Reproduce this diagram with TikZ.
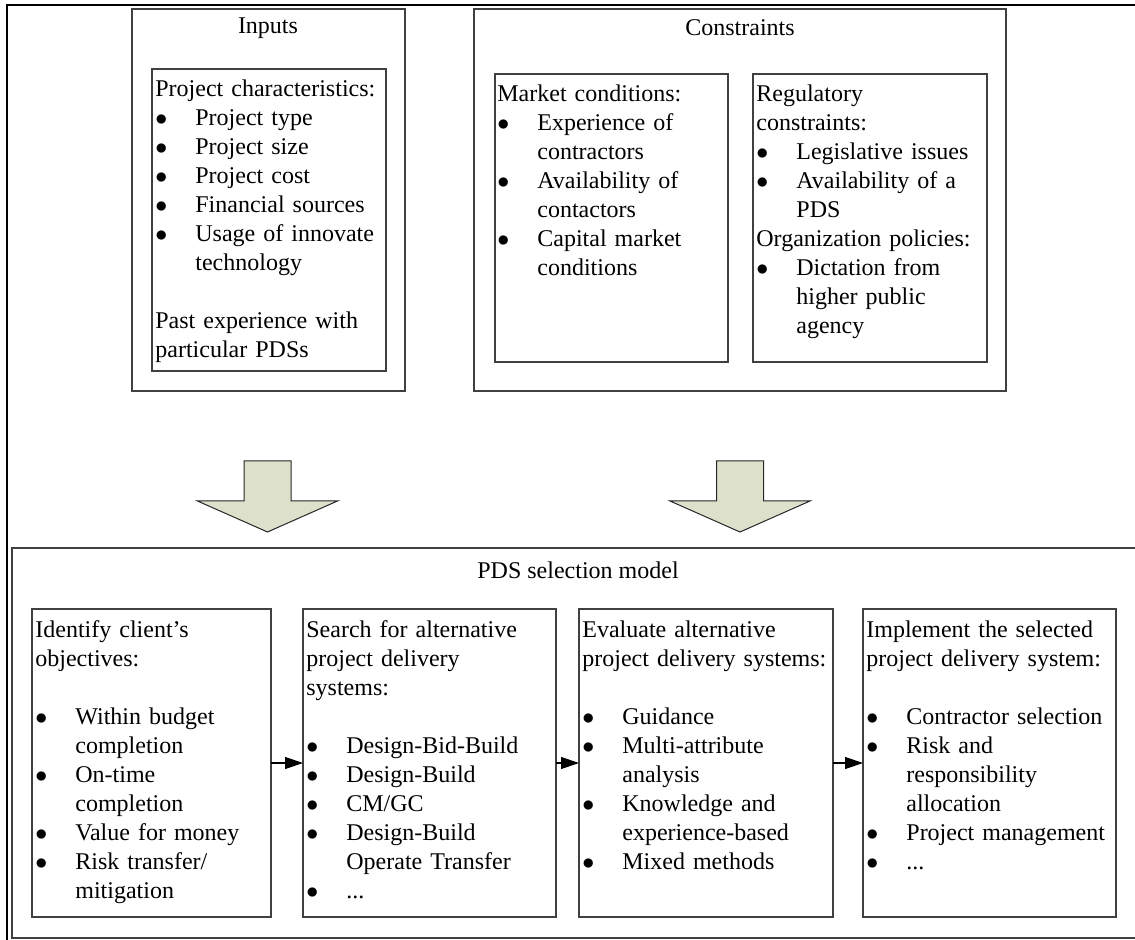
\documentclass[tikz,border=0pt]{standalone}
\usepackage{fontspec}
\setmainfont{Liberation Serif}
\usetikzlibrary{arrows.meta}
\setlength{\parindent}{0pt}
\definecolor{pfeilgruen}{RGB}{221,225,204}
\newcommand{\punkt}[1]{\par\hangindent=20pt\hangafter=1\noindent\makebox[20pt][l]{$\bullet$}#1\par}
\newcommand{\leerzeile}{\par\vspace{14.5pt}\noindent}
\tikzset{
  kasten/.style={draw=black!75, line width=0.6pt, inner sep=0pt, outer sep=0pt, anchor=north west},
  liste/.style={anchor=north west, inner sep=0pt, align=left, font=\fontsize{12}{14.5}\selectfont},
  titel/.style={inner sep=0pt, font=\fontsize{12}{14.5}\selectfont},
  blockpfeil/.style={draw=black!85, line width=0.5pt, fill=pfeilgruen},
}
\begin{document}
\begin{tikzpicture}[x=0.5pt,y=-0.5pt]
\useasboundingbox (0,0) rectangle (1135,940);
\clip (0,0) rectangle (1135,940);
% Rahmen
\draw[line width=1.1pt] (7,960) -- (7,5) -- (1160,5);
% Kaesten oben
\node[kasten, minimum width=136.5pt, minimum height=191pt] (inputs) at (132,9) {};
\node[kasten, minimum width=117pt, minimum height=151pt] (merkmale) at (152,69) {};
\node[kasten, minimum width=266pt, minimum height=191pt] (constraints) at (474,9) {};
\node[kasten, minimum width=116.5pt, minimum height=144pt] (markt) at (495,74) {};
\node[kasten, minimum width=117pt, minimum height=144pt] (regeln) at (753,74) {};
% Kaesten unten
\node[kasten, minimum width=570pt, minimum height=195pt] (modell) at (12,548) {};
\node[kasten, minimum width=119.5pt, minimum height=154pt] (s1) at (32,609) {};
\node[kasten, minimum width=126.5pt, minimum height=154pt] (s2) at (303,609) {};
\node[kasten, minimum width=127pt, minimum height=154pt] (s3) at (579,609) {};
\node[kasten, minimum width=126.5pt, minimum height=154pt] (s4) at (863,609) {};
% Pfeile
\coordinate (pl) at (267.5,461);
\coordinate (pr) at (740,461);
\draw[blockpfeil] (pl) ++(-23.5,0) -- ++(47,0) -- ++(0,40) -- ++(46.5,0) -- ++(-70,31) -- ++(-70,-31) -- ++(46.5,0) -- cycle;
\draw[blockpfeil] (pr) ++(-23.5,0) -- ++(47,0) -- ++(0,40) -- ++(46.5,0) -- ++(-70,31) -- ++(-70,-31) -- ++(46.5,0) -- cycle;
\draw[-{Triangle[length=9pt,width=6pt]}, line width=0.6pt] (s1) -- (s2);
\draw[-{Triangle[length=9pt,width=6pt]}, line width=0.6pt] (s2) -- (s3);
\draw[-{Triangle[length=9pt,width=6pt]}, line width=0.6pt] (s3) -- (s4);
% Beschriftung
\node[titel] (tinputs) at (268,28) {Inputs};
\node[titel] (tconstraints) at (740,28) {Constraints};
\node[titel] (tmodell) at (578,570) {PDS selection model};
\node[liste, text width=116pt] (lmerkmale) at (155,79) {Project characteristics:
\punkt{Project type}
\punkt{Project size}
\punkt{Project cost}
\punkt{Financial sources}
\punkt{Usage of innovate\newline technology}
\leerzeile Past experience with\newline particular PDSs};
\node[liste, text width=115pt] (lmarkt) at (497,84) {Market conditions:
\punkt{Experience of\newline contractors}
\punkt{Availability of\newline contactors}
\punkt{Capital market\newline conditions}};
\node[liste, text width=116pt] (lregeln) at (756,84) {Regulatory\newline constraints:
\punkt{Legislative issues}
\punkt{Availability of a\newline PDS}
\noindent Organization policies:
\punkt{Dictation from\newline higher public\newline agency}};
\node[liste, text width=118pt] (ls1) at (35,620) {Identify client's\newline objectives:
\leerzeile
\punkt{Within budget\newline completion}
\punkt{On-time\newline completion}
\punkt{Value for money}
\punkt{Risk transfer/\newline mitigation}};
\node[liste, text width=125pt] (ls2) at (306,620) {Search for alternative\newline project delivery\newline systems:
\leerzeile
\punkt{Design-Bid-Build}
\punkt{Design-Build}
\punkt{CM/GC}
\punkt{Design-Build\newline Operate Transfer}
\punkt{...}};
\node[liste, text width=126pt] (ls3) at (582,620) {Evaluate alternative\newline project delivery systems:
\leerzeile
\punkt{Guidance}
\punkt{Multi-attribute\newline analysis}
\punkt{Knowledge and\newline experience-based}
\punkt{Mixed methods}};
\node[liste, text width=125pt] (ls4) at (866,620) {Implement the selected\newline project delivery system:
\leerzeile
\punkt{Contractor selection}
\punkt{Risk and\newline responsibility\newline allocation}
\punkt{Project management}
\punkt{...}};
\end{tikzpicture}
\end{document}
